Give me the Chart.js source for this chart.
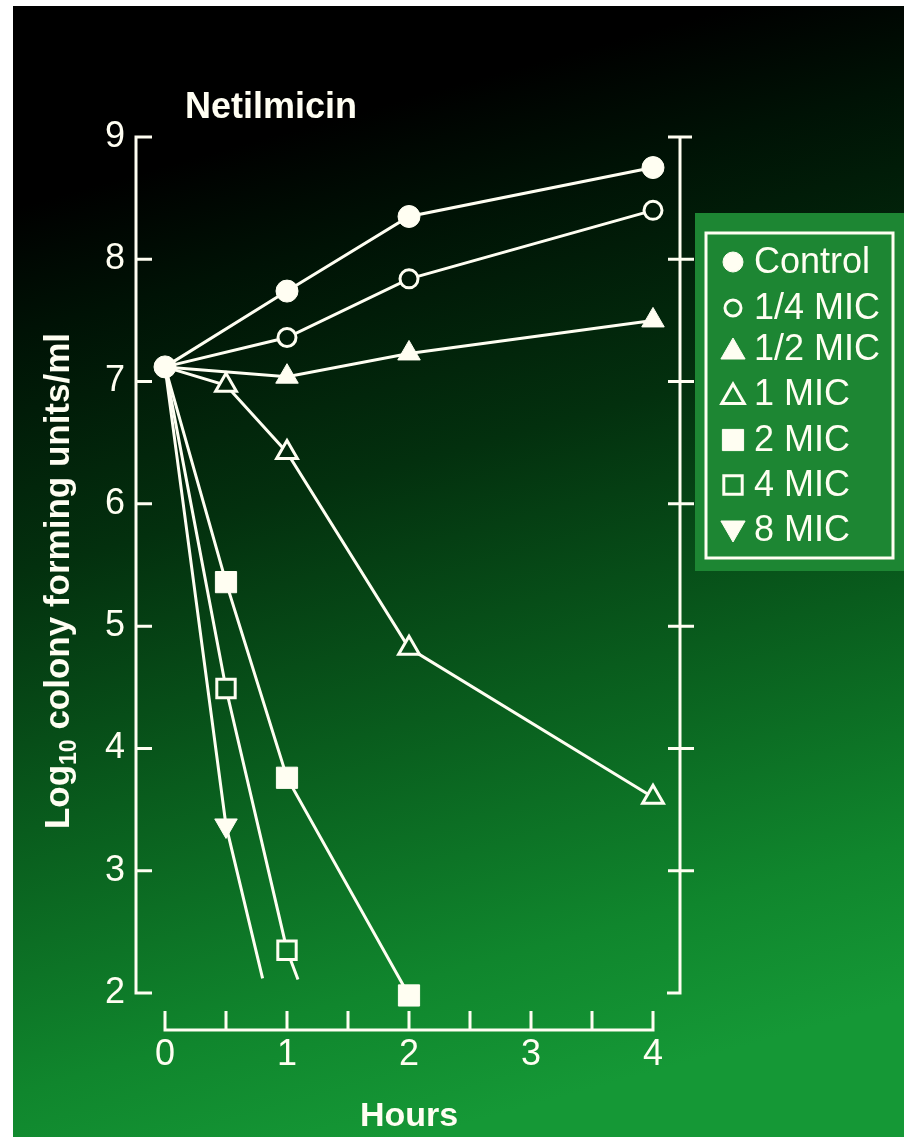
<!DOCTYPE html>
<html>
<head>
<meta charset="utf-8">
<script src="https://cdn.jsdelivr.net/npm/chart.js@4/dist/chart.umd.min.js"></script>
<style>
html, body { margin: 0; padding: 0; background: #fff; }
#wrap { position: absolute; left: 0; top: 0; width: 904px; height: 1137px; }
</style>
</head>
<body>
<div id="wrap"><canvas id="myChart" width="904" height="1137"></canvas></div>
<script>
// time-kill curves, log10 CFU/ml
var xTicks = [0, 1, 2, 3, 4];
var xMinorTicks = [0, 0.5, 1, 1.5, 2, 2.5, 3, 3.5, 4];
var yTicks = [2, 3, 4, 5, 6, 7, 8, 9];

var controlHours = [0, 1, 2, 4];
var controlLog = [7.12, 7.74, 8.35, 8.75];
var quarterHours = [0, 1, 2, 4];
var quarterLog = [7.12, 7.36, 7.84, 8.40];
var halfHours = [0, 1, 2, 4];
var halfLog = [7.12, 7.04, 7.23, 7.50];
var oneHours = [0, 0.5, 1, 2, 4];
var oneLog = [7.12, 6.97, 6.42, 4.82, 3.60];
var twoHours = [0, 0.5, 1, 2];
var twoLog = [7.12, 5.36, 3.76, 1.98];
var fourHours = [0, 0.5, 1];
var fourLog = [7.12, 4.49, 2.35];
var eightHours = [0, 0.5];
var eightLog = [7.12, 3.37];
// lines run on past the last marker to here
var fourTail = [1.09, 2.11];
var eightTail = [0.80, 2.12];

var ink = '#fffef2';
var fam = "'Liberation Sans', Arial, Helvetica, sans-serif";

// slide background: black at top going to green at the bottom
var GX0 = 150, GY0 = 170, GX1 = 420, GY1 = 1137;
var bgStops = [
    [0.00, 0, 0, 0],
    [0.12, 0, 18, 5],
    [0.35, 3, 48, 14],
    [0.60, 9, 92, 29],
    [0.85, 16, 134, 45],
    [1.00, 21, 152, 54]
];

function bgAt(px, py) {
    var dx = GX1 - GX0, dy = GY1 - GY0;
    var t = ((px - GX0) * dx + (py - GY0) * dy) / (dx * dx + dy * dy);
    t = Math.max(0, Math.min(1, t));
    for (var i = 1; i < bgStops.length; i++) {
        var a = bgStops[i - 1], b = bgStops[i];
        if (t <= b[0]) {
            var f = (t - a[0]) / (b[0] - a[0]);
            var r = Math.round(a[1] + (b[1] - a[1]) * f);
            var g = Math.round(a[2] + (b[2] - a[2]) * f);
            var bl = Math.round(a[3] + (b[3] - a[3]) * f);
            return 'rgb(' + r + ',' + g + ',' + bl + ')';
        }
    }
    return 'rgb(21,152,54)';
}

function hollowFill(c) {
    if (!c.parsed) return '#000';
    var px = c.chart.scales.x.getPixelForValue(c.parsed.x);
    var py = c.chart.scales.y.getPixelForValue(c.parsed.y);
    return bgAt(px, py);
}

function makeSet(label, hrs, vals, tail, style) {
    var pts = hrs.map(function (h, i) { return { x: h, y: vals[i] }; });
    if (tail) pts.push({ x: tail[0], y: tail[1] });
    var radii = pts.map(function (p, i) {
        if (i === 0 && label !== 'Control') return 0;
        if (tail && i === pts.length - 1) return 0;
        return style.radius;
    });
    return {
        label: label,
        data: pts,
        borderColor: ink,
        borderWidth: 3,
        pointStyle: style.shape,
        rotation: style.rotation || 0,
        pointRadius: radii,
        pointBorderColor: ink,
        pointBorderWidth: style.filled ? 1 : 3,
        pointBackgroundColor: style.filled ? ink : hollowFill,
        legendRadius: style.legendRadius,
        filled: style.filled,
        tension: 0,
        clip: false
    };
}

var datasets = [
    makeSet('Control', controlHours, controlLog, null, { shape: 'circle', radius: 11, filled: true, legendRadius: 10 }),
    makeSet('1/4 MIC', quarterHours, quarterLog, null, { shape: 'circle', radius: 9, filled: false, legendRadius: 8 }),
    makeSet('1/2 MIC', halfHours, halfLog, null, { shape: 'triangle', radius: 13, filled: true, legendRadius: 14 }),
    makeSet('1 MIC', oneHours, oneLog, null, { shape: 'triangle', radius: 12, filled: false, legendRadius: 13 }),
    makeSet('2 MIC', twoHours, twoLog, null, { shape: 'rect', radius: 15, filled: true, legendRadius: 15 }),
    makeSet('4 MIC', fourHours, fourLog, fourTail, { shape: 'rect', radius: 13, filled: false, legendRadius: 13 }),
    makeSet('8 MIC', eightHours, eightLog, eightTail, { shape: 'triangle', rotation: 180, radius: 13, filled: true, legendRadius: 14 })
];

function drawYTitle(ctx) {
    var big = 'bold 35px ' + fam, small = 'bold 23px ' + fam;
    var parts = [['Log', big, 0], ['10', small, 7], [' colony forming units/ml', big, 0]];
    var total = 0;
    parts.forEach(function (p) { ctx.font = p[1]; total += ctx.measureText(p[0]).width; });
    ctx.save();
    ctx.translate(57, 581 + total / 2);
    ctx.rotate(-Math.PI / 2);
    ctx.fillStyle = ink;
    ctx.textAlign = 'left';
    ctx.textBaseline = 'alphabetic';
    var x = 0;
    parts.forEach(function (p) {
        ctx.font = p[1];
        ctx.fillText(p[0], x, 12 + p[2]);
        x += ctx.measureText(p[0]).width;
    });
    ctx.restore();
}

var slidePlugin = {
    id: 'slide',
    beforeDraw: function (chart) {
        var ctx = chart.ctx;
        ctx.save();
        ctx.fillStyle = '#ffffff';
        ctx.fillRect(0, 0, 904, 1137);
        var g = ctx.createLinearGradient(GX0, GY0, GX1, GY1);
        bgStops.forEach(function (s) {
            g.addColorStop(s[0], 'rgb(' + s[1] + ',' + s[2] + ',' + s[3] + ')');
        });
        ctx.fillStyle = g;
        ctx.fillRect(13, 6, 904 - 13, 1137 - 6);
        // legend panel
        ctx.fillStyle = '#1d8633';
        ctx.fillRect(695, 213, 904 - 695, 358);
        ctx.restore();
    },
    beforeDatasetsDraw: function (chart) {
        var ctx = chart.ctx;
        var xs = chart.scales.x, ys = chart.scales.y;
        var top = ys.getPixelForValue(9), bot = ys.getPixelForValue(2);
        ctx.save();
        ctx.strokeStyle = ink;
        ctx.lineWidth = 3;
        ctx.beginPath();
        // left axis
        ctx.moveTo(136, top - 1.5);
        ctx.lineTo(136, bot + 1.5);
        yTicks.forEach(function (v) {
            var py = ys.getPixelForValue(v);
            ctx.moveTo(136, py);
            ctx.lineTo(152, py);
        });
        // right axis
        ctx.moveTo(680, top - 1.5);
        ctx.lineTo(680, bot + 1.5);
        yTicks.forEach(function (v) {
            var py = ys.getPixelForValue(v);
            if (v === 9) { ctx.moveTo(668, py); ctx.lineTo(692, py); }
            else if (v === 2) { ctx.moveTo(667, py); ctx.lineTo(680, py); }
            else { ctx.moveTo(668, py); ctx.lineTo(694, py); }
        });
        // time axis
        var ay = 1030;
        ctx.moveTo(xs.getPixelForValue(0) - 1.5, ay);
        ctx.lineTo(xs.getPixelForValue(4) + 1.5, ay);
        xMinorTicks.forEach(function (v) {
            var px = xs.getPixelForValue(v);
            ctx.moveTo(px, ay);
            ctx.lineTo(px, ay - 19);
        });
        ctx.stroke();

        ctx.fillStyle = ink;
        ctx.font = 'bold 36px ' + fam;
        ctx.textBaseline = 'alphabetic';
        ctx.textAlign = 'left';
        ctx.fillText('Netilmicin', 185, 118);
        ctx.restore();
        drawYTitle(ctx);
    },
    afterDraw: function (chart) {
        var ctx = chart.ctx;
        ctx.save();
        ctx.strokeStyle = ink;
        ctx.lineWidth = 3;
        ctx.strokeRect(706, 233, 187, 325);
        ctx.font = '36px ' + fam;
        ctx.textBaseline = 'middle';
        ctx.textAlign = 'left';
        var rows = [262, 308, 349, 394, 440, 485, 530];
        chart.data.datasets.forEach(function (ds, i) {
            var y = rows[i];
            ctx.fillStyle = ds.filled ? ink : '#1d8633';
            ctx.strokeStyle = ink;
            ctx.lineWidth = ds.filled ? 1 : 3;
            Chart.helpers.drawPoint(ctx, {
                pointStyle: ds.pointStyle,
                rotation: ds.rotation,
                radius: ds.legendRadius,
                borderWidth: ds.filled ? 1 : 3
            }, 733, y + (ds.pointStyle === 'triangle' ? (ds.rotation ? -2 : 3) : 0));
            ctx.fillStyle = ink;
            ctx.fillText(ds.label, 754, y + 1);
        });
        ctx.restore();
    }
};

var ctx = document.getElementById('myChart').getContext('2d');
var chart = new Chart(ctx, {
    type: 'line',
    data: { datasets: datasets },
    plugins: [slidePlugin],
    options: {
        responsive: false,
        animation: false,
        layout: { padding: { top: 137, right: 251, bottom: 0, left: 0 } },
        scales: {
            x: {
                type: 'linear',
                min: 0,
                max: 4,
                afterFit: function (s) { s.height = 144; },
                afterBuildTicks: function (s) { s.ticks = xTicks.map(function (v) { return { value: v }; }); },
                grid: { display: false, drawTicks: false },
                border: { display: false },
                ticks: { color: ink, padding: 40, font: { family: fam, size: 36 } },
                title: {
                    display: true,
                    text: 'Hours',
                    color: ink,
                    padding: { top: 0, bottom: 0 },
                    font: { family: fam, size: 34, weight: 'bold' }
                }
            },
            y: {
                type: 'linear',
                min: 2,
                max: 9,
                afterFit: function (s) { s.width = 165; },
                afterBuildTicks: function (s) { s.ticks = yTicks.map(function (v) { return { value: v }; }); },
                grid: { display: false, drawTicks: false },
                border: { display: false },
                ticks: { color: ink, padding: 40, font: { family: fam, size: 36 } }
            }
        },
        plugins: {
            legend: { display: false },
            tooltip: { enabled: false }
        }
    }
});
</script>
</body>
</html>
